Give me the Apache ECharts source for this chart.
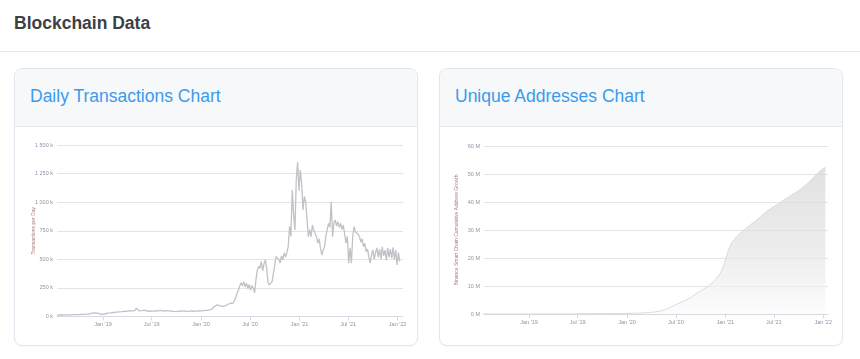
<!DOCTYPE html>
<html>
<head>
<meta charset="utf-8">
<script src="https://cdn.jsdelivr.net/npm/echarts@6/dist/echarts.min.js"></script>
<style>
  html, body { margin:0; padding:0; width:860px; height:359px; background:#fff; overflow:hidden;
    font-family:"Liberation Sans", Arial, Helvetica, sans-serif; }
  .hdr { position:absolute; left:14px; top:13px; font-size:17.5px; line-height:20px; font-weight:700; color:#3d4044; }
  .divider { position:absolute; left:0; top:51px; width:860px; height:1px; background:#e4e7ee; }
  .card { position:absolute; top:68px; width:402px; height:276px; border:1px solid #e2e6ee; border-radius:8px;
    overflow:hidden; background:#fff; box-shadow:0 1px 2px rgba(0,0,0,0.03); }
  .card-h { position:absolute; left:0; top:0; width:402px; height:57px; background:#f7f8fa; border-bottom:1px solid #e2e6ee; }
  .card-t { position:absolute; left:15px; top:17px; font-size:17.5px; line-height:20px; color:#3a9bee; white-space:nowrap; }
  #chart { position:absolute; left:0; top:0; width:860px; height:359px; }
</style>
</head>
<body>
<div class="hdr">Blockchain Data</div>
<div class="divider"></div>
<div class="card" style="left:14px"><div class="card-h"><div class="card-t">Daily Transactions Chart</div></div></div>
<div class="card" style="left:439px"><div class="card-h"><div class="card-t">Unique Addresses Chart</div></div></div>
<div id="chart"></div>
<script>
// ---- data ----
const txStart = [2018, 7, 14];      // first sample date (y, m, d)
const txStepDays = 5;               // spacing of samples
const txValuesK = [
  12,12,13,13,13,14,14,14,15,15,
  15,16,16,16,17,17,17,18,18,18,
  19,19,20,21,22,26,30,28,31,27,
  29,25,22,20,18,21,24,27,29,30,
  31,33,35,36,38,38,40,41,42,44,
  45,44,46,48,52,60,50,47,52,73,
  74,50,48,52,49,55,64,48,52,46,
  50,47,52,48,45,50,47,53,49,46,
  48,52,45,50,43,47,52,44,48,42,
  46,50,44,47,43,48,45,42,46,49,
  44,46,43,47,45,48,46,50,47,52,
  49,54,52,57,55,62,70,85,95,102,
  98,95,92,88,87,92,98,105,112,116,
  114,118,140,165,206,230,270,294,270,305,
  260,290,245,280,230,270,250,206,320,408,
  440,420,480,400,460,495,420,300,277,290,
  305,380,450,524,540,500,468,530,495,556,
  520,560,611,786,700,1106,900,757,1200,1348,
  1100,1281,1164,931,1050,1004,850,698,760,698,
  800,757,772,700,641,680,600,539,580,611,
  700,760,815,780,1004,698,820,844,790,830,
  780,815,760,800,786,641,700,466,600,466,
  700,786,740,757,720,698,650,680,611,640,
  567,590,520,466,540,582,500,560,600,520,
  590,500,610,530,580,490,600,520,590,510,
  605,500,580,451,560,480
];
const addrStart = [2018, 7, 15];
const addrStepDays = 14;
const addrValuesM = [
  0,0,0,0,0,0,0,0,0,0,
  0.01,0.01,0.01,0.02,0.02,0.02,0.03,0.03,0.03,0.04,
  0.04,0.05,0.05,0.06,0.06,0.07,0.08,0.09,0.1,0.11,
  0.12,0.13,0.14,0.15,0.16,0.17,0.18,0.2,0.22,0.24,
  0.27,0.3,0.35,0.42,0.5,0.65,0.8,1.05,1.4,1.9,
  2.5,3.2,3.8,4.4,5.0,5.8,6.7,7.6,8.4,9.2,
  10.1,11.3,12.8,14.5,17.5,22.0,25.2,27.0,28.4,29.6,
  30.7,31.8,32.8,33.9,35.1,36.2,37.2,38.1,38.9,39.8,
  40.7,41.6,42.5,43.3,44.2,45.2,46.3,47.6,49.0,50.3,
  51.5,52.4
];
const xTickDates = [[2019,1,1],[2019,7,1],[2020,1,1],[2020,7,1],[2021,1,1],[2021,7,1],[2022,1,1]];
const txAxisRange = [[2018,7,14],[2022,1,21]];
const addrAxisRange = [[2018,7,17],[2022,1,19]];
const txYTicks = { min:0, max:1500, step:250 };
const addrYTicks = { min:0, max:60, step:10 };
const monthNames = ['Jan','Feb','Mar','Apr','May','Jun','Jul','Aug','Sep','Oct','Nov','Dec'];

// ---- build ----
const DAY = 86400000;
const ts = a => Date.UTC(a[0], a[1]-1, a[2]);
const txData = txValuesK.map((v,i) => [ts(txStart) + i*txStepDays*DAY, v]);
const addrData = addrValuesM.map((v,i) => [ts(addrStart) + i*addrStepDays*DAY, v]);
const tickTs = xTickDates.map(ts);
const fmtDate = v => { const d = new Date(v); return monthNames[d.getUTCMonth()] + " '" + String(d.getUTCFullYear()).slice(2); };
const fmtK = v => String(v).replace(/\B(?=(\d{3})+(?!\d))/g, ' ') + ' k';

const labelColor = '#8e94a4';
const axisColor = '#d6dae3';
const gridColor = '#e4e4e4';
const nameColor = '#a87c7c';
const FONT = '"Liberation Sans", Arial, sans-serif';

function xAxis(gi, range){
  return {
    type:'value', gridIndex:gi, min:ts(range[0]), max:ts(range[1]),
    axisLine:{ show:true, onZero:false, lineStyle:{ color:axisColor, width:1 } },
    axisTick:{ show:true, customValues:tickTs, length:4, lineStyle:{ color:axisColor } },
    axisLabel:{ customValues:tickTs, formatter:fmtDate, fontSize:5.5, color:labelColor, margin:5, fontFamily:FONT },
    splitLine:{ show:false }
  };
}
function yAxis(gi, t, fmt, name, gap){
  return {
    type:'value', gridIndex:gi, min:t.min, max:t.max, interval:t.step,
    name:name, nameLocation:'middle', nameGap:gap, nameRotate:90, nameMoveOverlap:false,
    nameTextStyle:{ color:nameColor, fontSize:5, fontFamily:FONT },
    axisLine:{ show:false }, axisTick:{ show:false },
    axisLabel:{ formatter:fmt, fontSize:5.5, color:labelColor, margin:4, fontFamily:FONT },
    splitLine:{ show:true, lineStyle:{ color:gridColor, width:1 } }
  };
}

const chart = echarts.init(document.getElementById('chart'), null, { renderer:'canvas' });
chart.setOption({
  animation:false,
  backgroundColor:'transparent',
  grid:[
    { left:57, top:145, width:346, height:171.5 },
    { left:484, top:146, width:344, height:168 }
  ],
  xAxis:[ xAxis(0, txAxisRange), xAxis(1, addrAxisRange) ],
  yAxis:[
    yAxis(0, txYTicks, fmtK, 'Transactions per Day', 21),
    yAxis(1, addrYTicks, v => v + ' M', 'Binance Smart Chain Cumulative Address Growth', 25)
  ],
  series:[
    { type:'line', xAxisIndex:0, yAxisIndex:0, data:txData, showSymbol:false, symbol:'none',
      lineStyle:{ color:'#bfc2c7', width:1.3 } },
    { type:'line', xAxisIndex:1, yAxisIndex:1, data:addrData, showSymbol:false, symbol:'none', smooth:0.3,
      lineStyle:{ color:'#dadada', width:1 },
      areaStyle:{ color:{ type:'linear', x:0, y:0, x2:0, y2:1,
        colorStops:[ { offset:0, color:'#d4d4d4' }, { offset:0.6, color:'#e5e5e5' }, { offset:1, color:'#fbfbfb' } ] } } }
  ]
});
</script>
</body>
</html>
